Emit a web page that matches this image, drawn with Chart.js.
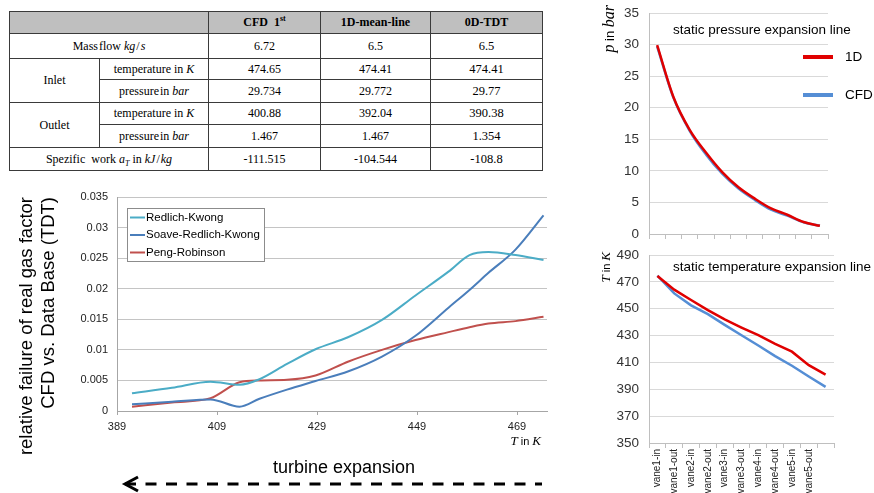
<!DOCTYPE html>
<html>
<head>
<meta charset="utf-8">
<script src="https://cdn.jsdelivr.net/npm/chart.js@4/dist/chart.umd.min.js"></script>
<style>
html,body{margin:0;padding:0;width:874px;height:493px;overflow:hidden;background:#fff;}
.abs{position:absolute;}
#tbl{border-collapse:collapse;table-layout:fixed;font-family:"Liberation Serif","Times New Roman",serif;font-size:12px;color:#000;}
#tbl td{border:1px solid #3a3a3a;text-align:center;vertical-align:middle;padding:0;white-space:nowrap;}
#tbl tr.hd td{background:#bfbfbf;font-weight:bold;}
#tbl td.big{font-size:12.5px;}
#tbl sup{font-size:8px;vertical-align:5px;line-height:0;}
#tbl sub{font-size:8px;vertical-align:-3px;line-height:0;}
canvas{position:absolute;}
</style>
</head>
<body>
<table id="tbl" class="abs" style="left:9px;top:11px;width:533px;">
<colgroup><col style="width:90px"><col style="width:109px"><col style="width:112px"><col style="width:110px"><col style="width:112px"></colgroup>
<tbody id="tbody"></tbody>
</table>

<canvas id="cLeft" width="560" height="285" style="left:0;top:180px;"></canvas>
<canvas id="cPress" width="274" height="240" style="left:600px;top:0;"></canvas>
<canvas id="cTemp" width="274" height="253" style="left:600px;top:240px;"></canvas>

<div class="abs" style="left:273px;top:457px;font:18px 'Liberation Sans',Arial,sans-serif;color:#000;white-space:nowrap;">turbine expansion</div>
<svg class="abs" style="left:0;top:470px" width="560" height="23">
  <line x1="125" y1="14" x2="542" y2="14" stroke="#000" stroke-width="3" stroke-dasharray="11 9.5"/>
  <polyline points="138,7 125,14 138,21" fill="none" stroke="#000" stroke-width="3"/>
</svg>

<script>
// ---------- table data ----------
const tableHeads = ['CFD&nbsp; 1<sup>st</sup>', '1D-mean-line', '0D-TDT'];
const massFlow = ['6.72', '6.5', '6.5'];
const inletTemp = ['474.65', '474.41', '474.41'];
const inletPress = ['29.734', '29.772', '29.77'];
const outletTemp = ['400.88', '392.04', '390.38'];
const outletPress = ['1.467', '1.467', '1.354'];
const specWork = ['-111.515', '-104.544', '-108.8'];

// ---------- real gas factor chart ----------
const tempK = [392, 400, 407.7, 413.5, 417.5, 423, 428.7, 435.3, 442, 448.7, 455.3, 459.5, 463.3, 468.7, 474.3];
const redlichKwong = [0.0029, 0.0038, 0.0048, 0.0043, 0.0052, 0.0077, 0.0101, 0.0121, 0.0149, 0.0189, 0.0228, 0.0255, 0.0260, 0.0255, 0.0247];
const soaveRedlichKwong = [0.0011, 0.0015, 0.0019, 0.0007, 0.0020, 0.0035, 0.0049, 0.0065, 0.0089, 0.0123, 0.0169, 0.0198, 0.0226, 0.0264, 0.0320];
const pengRobinson = [0.0007, 0.0014, 0.0021, 0.0047, 0.0050, 0.0051, 0.0058, 0.0081, 0.0100, 0.0116, 0.0129, 0.0137, 0.0143, 0.0147, 0.0154];
const tempTicks = [389, 409, 429, 449, 469];

// ---------- expansion lines ----------
const vanes = ['vane1-in', 'vane1-out', 'vane2-in', 'vane2-out', 'vane3-in', 'vane3-out', 'vane4-in', 'vane4-out', 'vane5-in', 'vane5-out', ''];
const pressure1D = [29.9, 21.7, 16.5, 12.9, 9.8, 7.4, 5.6, 4.05, 3.05, 1.9, 1.3];
const pressureCFD = [29.73, 21.6, 16.35, 12.6, 9.55, 7.2, 5.4, 3.85, 2.9, 1.85, 1.3];
const temp1D = [474.4, 464.2, 456.5, 449.0, 442.0, 436.0, 430.3, 423.8, 418.0, 408.0, 400.9];
const tempCFD = [474.65, 461.4, 452.5, 446.0, 438.0, 430.2, 422.6, 414.7, 407.5, 399.5, 391.8];

// build table
(function(){
  const c = vals => vals.map((v,i)=>'<td'+(i===2?' class="big"':'')+'>'+v+'</td>').join('');
  let h = '';
  h += '<tr class="hd" style="height:22px"><td colspan="2"></td>' + tableHeads.map(t=>'<td>'+t+'</td>').join('') + '</tr>';
  h += '<tr style="height:25px"><td colspan="2">Mass&#8202;flow <i>kg</i>&#8202;/&#8202;<i>s</i></td>' + c(massFlow) + '</tr>';
  h += '<tr style="height:21px"><td rowspan="2">Inlet</td><td>temperature in <i>K</i></td>' + c(inletTemp) + '</tr>';
  h += '<tr style="height:23px"><td>pressure&#8202;in <i>bar</i></td>' + c(inletPress) + '</tr>';
  h += '<tr style="height:22px"><td rowspan="2">Outlet</td><td>temperature in <i>K</i></td>' + c(outletTemp) + '</tr>';
  h += '<tr style="height:23px"><td>pressure&#8202;in <i>bar</i></td>' + c(outletPress) + '</tr>';
  h += '<tr style="height:23px"><td colspan="2">Spezific&nbsp; work <i>a<sub>T</sub></i> in <i>kJ</i>&#8202;/&#8202;<i>kg</i></td>' + c(specWork) + '</tr>';
  document.getElementById('tbody').innerHTML = h;
})();

const SANS = '"Liberation Sans", Arial, sans-serif';
const SERIF = '"Liberation Serif", "Times New Roman", serif';

function mixedText(ctx, segs, x, y, rot, align){
  ctx.save();
  ctx.translate(x, y);
  ctx.rotate(rot || 0);
  ctx.textBaseline = 'middle';
  ctx.textAlign = 'left';
  let total = 0;
  segs.forEach(s => { ctx.font = s.f; s.w = ctx.measureText(s.t).width; total += s.w; });
  let cx = align === 'right' ? -total : (align === 'center' ? -total/2 : 0);
  segs.forEach(s => { ctx.font = s.f; ctx.fillStyle = s.c || '#000'; ctx.fillText(s.t, cx, 0); cx += s.w; });
  ctx.restore();
}

const zeroPad = s => { s.paddingTop = 0; s.paddingBottom = 0; s.paddingLeft = 0; s.paddingRight = 0; };

// ---------- left chart ----------
const leftOverlay = {
  id: 'leftOverlay',
  afterDatasetsDraw(chart){
    const ctx = chart.ctx, a = chart.chartArea;
    const x = a.left + 10, y = a.top + 11, w = 137, h = 53;
    ctx.save();
    ctx.fillStyle = '#fff'; ctx.fillRect(x, y, w, h);
    ctx.strokeStyle = '#8c8c8c'; ctx.lineWidth = 1; ctx.strokeRect(x + 0.5, y + 0.5, w, h);
    chart.data.datasets.forEach((ds, i) => {
      const ly = y + 9.5 + i * 17.5;
      ctx.strokeStyle = ds.borderColor; ctx.lineWidth = 2;
      ctx.beginPath(); ctx.moveTo(x + 3, ly); ctx.lineTo(x + 18, ly); ctx.stroke();
      ctx.fillStyle = '#000'; ctx.font = '11.5px ' + SANS; ctx.textBaseline = 'middle'; ctx.textAlign = 'left';
      ctx.fillText(ds.label, x + 19, ly);
    });
    ctx.restore();
    mixedText(ctx, [
      {t:'T', f:'italic 13px ' + SERIF},
      {t:' in ', f:'11px ' + SANS},
      {t:'K', f:'italic 13px ' + SERIF}
    ], a.right - 6, a.bottom + 31, 0, 'right');
  }
};

new Chart(document.getElementById('cLeft'), {
  type: 'line',
  data: {
    datasets: [
      {label: 'Redlich-Kwong', data: tempK.map((t,i)=>({x:t, y:redlichKwong[i]})), borderColor: '#4bacc6'},
      {label: 'Soave-Redlich-Kwong', data: tempK.map((t,i)=>({x:t, y:soaveRedlichKwong[i]})), borderColor: '#4a7ebb'},
      {label: 'Peng-Robinson', data: tempK.map((t,i)=>({x:t, y:pengRobinson[i]})), borderColor: '#c0504d'}
    ]
  },
  options: {
    responsive: false, animation: false, events: [],
    layout: {padding: {top: 17, right: 13, left: 0, bottom: 0}},
    plugins: {legend: {display: false}, tooltip: {enabled: false}},
    elements: {point: {radius: 0}, line: {borderWidth: 2, cubicInterpolationMode: 'monotone', fill: false}},
    scales: {
      x: {
        type: 'linear', min: 389, max: 475,
        afterBuildTicks(s){ s.ticks = tempTicks.map(v => ({value: v})); },
        afterFit(s){ s.height = 54; zeroPad(s); },
        grid: {drawOnChartArea: false, drawTicks: true, tickLength: 4, color: '#a6a6a6'},
        border: {color: '#a6a6a6'},
        ticks: {padding: 5, color: '#222', font: {family: SANS, size: 11}, maxRotation: 0, autoSkip: false, callback: v => String(v)}
      },
      y: {
        min: 0, max: 0.035,
        afterFit(s){ s.width = 117; zeroPad(s); },
        grid: {color: '#c4c4c4', drawTicks: false},
        border: {color: '#a6a6a6'},
        ticks: {stepSize: 0.005, padding: 9, color: '#222', font: {family: SANS, size: 11}, callback: v => String(parseFloat(Number(v).toFixed(4)))},
        title: {display: true, text: ['relative failure of real gas factor', 'CFD vs. Data Base (TDT)'], align: 'end', color: '#000', font: {family: SANS, size: 18.5}, padding: {top: 16, bottom: 0}}
      }
    }
  },
  plugins: [leftOverlay]
});

// ---------- pressure chart ----------
const pressOverlay = {
  id: 'pressOverlay',
  afterDraw(chart){
    const ctx = chart.ctx;
    ctx.save();
    ctx.fillStyle = '#000'; ctx.font = '13.5px ' + SANS; ctx.textBaseline = 'middle'; ctx.textAlign = 'left';
    ctx.fillText('static pressure expansion line', 73, 30);
    chart.data.datasets.forEach((ds, i) => {
      const ly = 57 + i * 38;
      ctx.strokeStyle = ds.borderColor; ctx.lineWidth = 4;
      ctx.beginPath(); ctx.moveTo(203, ly); ctx.lineTo(233, ly); ctx.stroke();
      ctx.fillStyle = '#000'; ctx.font = '13.5px ' + SANS;
      ctx.fillText(ds.label, 245, ly);
    });
    ctx.restore();
    mixedText(ctx, [
      {t:'p', f:'italic 16px ' + SERIF},
      {t:' in ', f:'13px ' + SANS},
      {t:'bar', f:'italic 16px ' + SERIF}
    ], 10, 5, -Math.PI/2, 'right');
  }
};

new Chart(document.getElementById('cPress'), {
  type: 'line',
  data: {
    labels: vanes,
    datasets: [
      {label: '1D', data: pressure1D, borderColor: '#e00000'},
      {label: 'CFD', data: pressureCFD, borderColor: '#558ed5'}
    ]
  },
  options: {
    responsive: false, animation: false, events: [],
    layout: {padding: {top: 13, right: 46, left: 0, bottom: 0}},
    plugins: {legend: {display: false}, tooltip: {enabled: false}},
    elements: {point: {radius: 0}, line: {borderWidth: 2.5, cubicInterpolationMode: 'monotone', fill: false}},
    scales: {
      x: {
        offset: true,
        afterFit(s){ s.height = 6; zeroPad(s); },
        grid: {offset: true, drawOnChartArea: false, drawTicks: true, tickLength: 5, color: '#bfbfbf'},
        border: {color: '#bfbfbf'},
        ticks: {display: false}
      },
      y: {
        min: 0, max: 35,
        afterFit(s){ s.width = 49; zeroPad(s); },
        grid: {color: '#d9d9d9', drawTicks: false},
        border: {color: '#bfbfbf'},
        ticks: {stepSize: 5, padding: 10, color: '#333', font: {family: SANS, size: 13.5}}
      }
    }
  },
  plugins: [pressOverlay]
});

// ---------- temperature chart ----------
const tempOverlay = {
  id: 'tempOverlay',
  afterDraw(chart){
    const ctx = chart.ctx;
    ctx.save();
    ctx.fillStyle = '#000'; ctx.font = '13.5px ' + SANS; ctx.textBaseline = 'middle'; ctx.textAlign = 'left';
    ctx.fillText('static temperature expansion line', 73, 27);
    ctx.restore();
    mixedText(ctx, [
      {t:'T', f:'italic 13px ' + SERIF},
      {t:' in ', f:'11px ' + SANS},
      {t:'K', f:'italic 13px ' + SERIF}
    ], 7, 12, -Math.PI/2, 'right');
  }
};

new Chart(document.getElementById('cTemp'), {
  type: 'line',
  data: {
    labels: vanes,
    datasets: [
      {label: '1D', data: temp1D, borderColor: '#e00000'},
      {label: 'CFD', data: tempCFD, borderColor: '#558ed5'}
    ]
  },
  options: {
    responsive: false, animation: false, events: [],
    layout: {padding: {top: 15, right: 40, left: 0, bottom: 0}},
    plugins: {legend: {display: false}, tooltip: {enabled: false}},
    elements: {point: {radius: 0}, line: {borderWidth: 2.5, tension: 0, fill: false}},
    scales: {
      x: {
        offset: true,
        afterFit(s){ s.height = 50; zeroPad(s); },
        grid: {offset: true, drawOnChartArea: false, drawTicks: true, tickLength: 5, color: '#bfbfbf'},
        border: {color: '#bfbfbf'},
        ticks: {autoSkip: false, minRotation: 90, maxRotation: 90, padding: 1, color: '#222', font: {family: SANS, size: 10}}
      },
      y: {
        min: 350, max: 490,
        afterFit(s){ s.width = 49; zeroPad(s); },
        grid: {color: '#d9d9d9', drawTicks: false},
        border: {color: '#bfbfbf'},
        ticks: {stepSize: 20, padding: 10, color: '#333', font: {family: SANS, size: 13.5}}
      }
    }
  },
  plugins: [tempOverlay]
});
</script>
</body>
</html>
